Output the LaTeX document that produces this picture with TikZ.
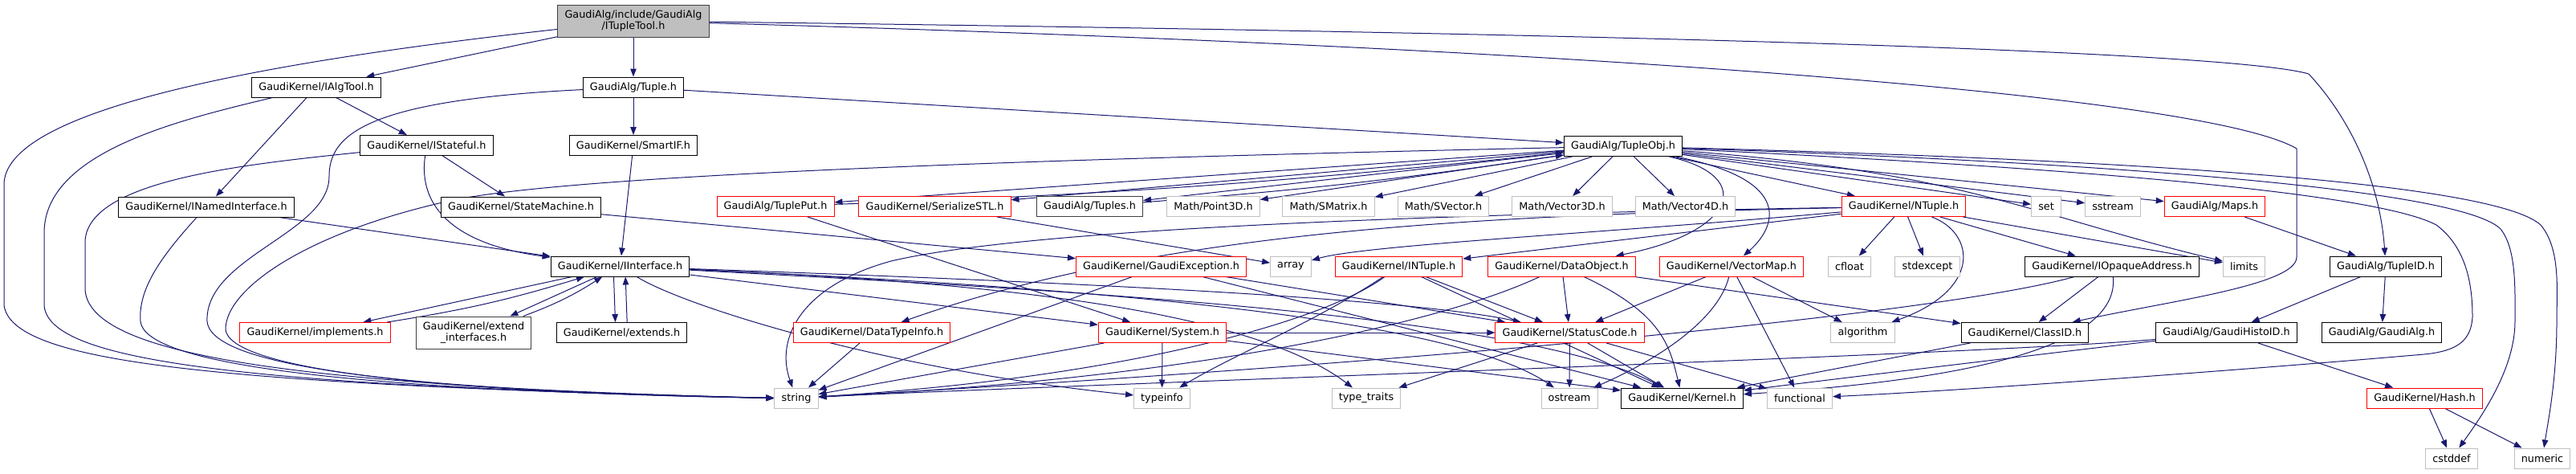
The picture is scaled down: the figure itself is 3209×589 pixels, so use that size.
\documentclass[tikz,border=0pt]{standalone}
\usepackage{fontspec}
\setmainfont{DejaVu Sans}
\usetikzlibrary{arrows.meta}
\definecolor{edgeblue}{HTML}{191970}
\definecolor{extgray}{HTML}{BFBFBF}
\pgfdeclarelayer{edges}
\pgfsetlayers{edges,main}
\tikzset{
  hdr/.style={draw=black, line width=0.75pt, fill=white, inner xsep=6.5pt, inner ysep=0pt,
    minimum height=18.75pt, align=center, font=\fontsize{9.6}{11}\selectfont},
  hdrred/.style={hdr, draw=red},
  hdrext/.style={hdr, draw=extgray},
  hdrroot/.style={hdr, fill=extgray, draw=black!75},
  inc/.style={edgeblue, line width=0.75pt, -{Triangle[length=7.5pt,width=5.6pt]}}
}
\begin{document}
\begin{tikzpicture}[x=0.75pt, y=-0.75pt]
\useasboundingbox (0,0) rectangle (3209,589);
\node[hdrroot, minimum height=30pt] (tool) at (789,26) {GaudiAlg/include/GaudiAlg\\/ITupleTool.h};
\node[hdr] (ialgtool) at (394,108.5) {GaudiKernel/IAlgTool.h};
\node[hdr] (tupleh) at (789,108.5) {GaudiAlg/Tuple.h};
\node[hdr] (istateful) at (531.5,181) {GaudiKernel/IStateful.h};
\node[hdr] (smartif) at (789,181) {GaudiKernel/SmartIF.h};
\node[hdr] (tupleobj) at (2022,182) {GaudiAlg/TupleObj.h};
\node[hdr] (inamed) at (257,257.5) {GaudiKernel/INamedInterface.h};
\node[hdr] (statemach) at (649,257.5) {GaudiKernel/StateMachine.h};
\node[hdrred] (tupleput) at (966,257) {GaudiAlg/TuplePut.h};
\node[hdrred] (serstl) at (1164.5,257) {GaudiKernel/SerializeSTL.h};
\node[hdr, draw=black!75] (tuples) at (1357.5,257) {GaudiAlg/Tuples.h};
\node[hdrext] (point3d) at (1511.5,257) {Math/Point3D.h};
\node[hdrext] (smatrix) at (1655,257) {Math/SMatrix.h};
\node[hdrext] (svector) at (1798,257) {Math/SVector.h};
\node[hdrext] (vec3d) at (1946,257) {Math/Vector3D.h};
\node[hdrext] (vec4d) at (2099.5,257) {Math/Vector4D.h};
\node[hdrred] (ntuple) at (2371.5,257) {GaudiKernel/NTuple.h};
\node[hdrext] (set) at (2549,257) {set};
\node[hdrext] (sstream) at (2632,257) {sstream};
\node[hdrred] (maps) at (2759,257) {GaudiAlg/Maps.h};
\node[hdr] (iiface) at (772.5,331.5) {GaudiKernel/IInterface.h};
\node[hdrred] (gexcept) at (1446.5,331.5) {GaudiKernel/GaudiException.h};
\node[hdrext] (array) at (1608,331.5) {array};
\node[hdrred] (intuple) at (1742.5,331.5) {GaudiKernel/INTuple.h};
\node[hdrred] (dataobj) at (1945.5,331.5) {GaudiKernel/DataObject.h};
\node[hdrred] (vecmap) at (2157,331.5) {GaudiKernel/VectorMap.h};
\node[hdrext] (cfloat) at (2304,331.5) {cfloat};
\node[hdrext] (stdexcept) at (2401,331.5) {stdexcept};
\node[hdr] (iopaque) at (2631,331.5) {GaudiKernel/IOpaqueAddress.h};
\node[hdrext] (limits) at (2795.5,331.5) {limits};
\node[hdr] (tupleid) at (2972,331.5) {GaudiAlg/TupleID.h};
\node[hdrred] (implements) at (392.5,414) {GaudiKernel/implements.h};
\node[hdr, draw=black!75, minimum height=30pt] (extendif) at (590,414) {GaudiKernel/extend\\\_interfaces.h};
\node[hdr] (extends) at (774.5,414) {GaudiKernel/extends.h};
\node[hdrred] (dtinfo) at (1086,414) {GaudiKernel/DataTypeInfo.h};
\node[hdrred] (system) at (1448,414) {GaudiKernel/System.h};
\node[hdrred] (statcode) at (1955.5,414) {GaudiKernel/StatusCode.h};
\node[hdrext] (algorithm) at (2320.5,414) {algorithm};
\node[hdr] (classid) at (2522.5,414) {GaudiKernel/ClassID.h};
\node[hdr] (histoid) at (2773.5,414) {GaudiAlg/GaudiHistoID.h};
\node[hdr] (gaudialg) at (2967,414) {GaudiAlg/GaudiAlg.h};
\node[hdrext] (string) at (992,495.5) {string};
\node[hdrext] (typeinfo) at (1447.5,495.5) {typeinfo};
\node[hdrext] (typetraits) at (1702,495.5) {type\_traits};
\node[hdrext] (ostream) at (1955,495.5) {ostream};
\node[hdr] (kernel) at (2095.5,495.5) {GaudiKernel/Kernel.h};
\node[hdrext] (functional) at (2242,495.5) {functional};
\node[hdrred] (hash) at (3020.5,495.5) {GaudiKernel/Hash.h};
\node[hdrext] (cstddef) at (3054,570.5) {cstddef};
\node[hdrext] (numeric) at (3167,570.5) {numeric};
\begin{pgfonlayer}{edges}
\draw[inc] (tool) .. controls (300,80) and (5,140) .. (5,230) -- (5,380) .. controls (15,450) and (250,478) .. (string.west);
\draw[inc] (tool) -- (ialgtool);
\draw[inc] (tool) -- (tupleh);
\draw[inc] (tool) .. controls (2300,45) and (2800,70) .. (2876,92) .. controls (2930,150) and (2965,230) .. (tupleid);
\draw[inc] (tool) .. controls (2000,60) and (2750,120) .. (2861,185) -- (2861,320) .. controls (2861,355) and (2700,375) .. (classid);
\draw[inc] (ialgtool) .. controls (220,150) and (55,190) .. (55,290) -- (55,380) .. controls (60,450) and (300,480) .. (string.west);
\draw[inc] (ialgtool) -- (istateful);
\draw[inc] (ialgtool) -- (inamed);
\draw[inc] (tupleh) .. controls (450,125) and (410,170) .. (410,220) .. controls (410,290) and (255,320) .. (258,400) .. controls (262,450) and (450,485) .. (string.west);
\draw[inc] (tupleh) -- (smartif);
\draw[inc] (tupleh) -- (tupleobj);
\draw[inc] (istateful) .. controls (300,205) and (110,225) .. (106,300) -- (106,360) .. controls (110,440) and (350,480) .. (string.west);
\draw[inc] (istateful) -- (statemach);
\draw[inc] (istateful) .. controls (520,260) and (570,305) .. (iiface);
\draw[inc] (smartif) -- (iiface);
\draw[inc] (inamed) .. controls (200,320) and (172,360) .. (175,400) .. controls (180,450) and (400,485) .. (string.west);
\draw[inc] (inamed) -- (iiface);
\draw[inc] (statemach) -- (gexcept);
\draw[inc] (iiface) -- (implements);
\draw[inc] (implements) to[bend right=4] (iiface);
\draw[inc] (iiface) -- (extendif);
\draw[inc] (extendif) to[bend right=6] (iiface);
\draw[inc] ([xshift=-6pt]iiface.south) -- ([xshift=-6pt]extends.north);
\draw[inc] ([xshift=5pt]extends.north) -- ([xshift=5pt]iiface.south);
\draw[inc] (iiface) .. controls (850,380) and (1100,460) .. (typeinfo);
\draw[inc] (iiface) -- (system);
\draw[inc] (iiface) .. controls (1200,350) and (1550,380) .. (typetraits);
\draw[inc] (iiface) .. controls (1300,350) and (1750,370) .. (statcode);
\draw[inc] (iiface) .. controls (1300,355) and (1800,390) .. (ostream);
\draw[inc] (iiface) .. controls (1300,360) and (1900,390) .. (kernel);
\draw[inc] (tupleobj) -- (tupleput);
\draw[inc] (tupleput) to[bend right=2] (tupleobj);
\draw[inc] (tupleobj) -- (tuples);
\draw[inc] (tuples) to[bend right=2] (tupleobj);
\draw[inc] (tupleobj) -- (serstl);
\draw[inc] (tupleobj) -- (point3d);
\draw[inc] (tupleobj) -- (smatrix);
\draw[inc] (tupleobj) -- (svector);
\draw[inc] (tupleobj) -- (vec3d);
\draw[inc] (tupleobj) -- (vec4d);
\draw[inc] (tupleobj) -- (ntuple);
\draw[inc] (tupleobj) -- (set);
\draw[inc] (tupleobj) -- (sstream);
\draw[inc] (tupleobj) -- (maps);
\draw[inc] (tupleobj) .. controls (2450,215) and (2520,265) .. (limits);
\draw[inc] (tupleobj) .. controls (2190,220) and (2160,290) .. (dataobj);
\draw[inc] (tupleobj) .. controls (2240,225) and (2210,285) .. (vecmap);
\draw[inc] (tupleobj) .. controls (2700,200) and (3110,230) .. (3165,280) .. controls (3190,310) and (3185,360) .. (3185,400) .. controls (3185,470) and (3175,520) .. (numeric);
\draw[inc] (tupleobj) .. controls (2700,205) and (3070,240) .. (3115,285) .. controls (3135,310) and (3133,360) .. (3133,400) .. controls (3133,460) and (3090,520) .. (cstddef);
\draw[inc] (tupleobj) .. controls (2500,205) and (2950,235) .. (3035,280) .. controls (3075,310) and (3080,360) .. (3080,395) .. controls (3078,425) and (3060,437) .. (3020,441) .. controls (2800,460) and (2450,486) .. (functional);
\draw[inc] (tupleobj) .. controls (1200,200) and (700,220) .. (560,250) .. controls (380,290) and (281,360) .. (281,410) .. controls (285,455) and (500,488) .. (string.west);
\draw[inc] (ntuple) .. controls (1900,265) and (1300,280) .. (1110,325) .. controls (1000,355) and (965,420) .. (string);
\draw[inc] (ntuple) .. controls (1850,268) and (1450,285) .. (dtinfo);
\draw[inc] (ntuple) .. controls (2000,290) and (1700,305) .. (array);
\draw[inc] (ntuple) -- (intuple);
\draw[inc] (ntuple) -- (cfloat);
\draw[inc] (ntuple) -- (stdexcept);
\draw[inc] (ntuple) -- (iopaque);
\draw[inc] (ntuple) -- (limits);
\draw[inc] (ntuple) .. controls (2460,290) and (2470,360) .. (algorithm);
\draw[inc] (serstl) -- (array);
\draw[inc] (tupleput) -- (system);
\draw[inc] (gexcept) -- (string);
\draw[inc] (gexcept) -- (statcode);
\draw[inc] (gexcept) -- (kernel);
\draw[inc] (dtinfo) -- (string);
\draw[inc] (system) -- (string);
\draw[inc] (system) -- (typeinfo);
\draw[inc] (system) -- (statcode);
\draw[inc] (system) -- (kernel);
\draw[inc] (intuple) .. controls (1650,400) and (1400,470) .. (string);
\draw[inc] (intuple) .. controls (1640,400) and (1540,440) .. (typeinfo);
\draw[inc] (intuple) -- (statcode);
\draw[inc] (intuple) -- (kernel);
\draw[inc] (dataobj) .. controls (1800,400) and (1500,470) .. (string);
\draw[inc] (dataobj) -- (statcode);
\draw[inc] (dataobj) .. controls (2070,390) and (2080,430) .. (kernel);
\draw[inc] (dataobj) -- (classid);
\draw[inc] (vecmap) -- (statcode);
\draw[inc] (vecmap) .. controls (2140,400) and (2060,450) .. (ostream);
\draw[inc] (vecmap) -- (functional);
\draw[inc] (vecmap) -- (algorithm);
\draw[inc] (statcode) -- (typetraits);
\draw[inc] (statcode) -- (ostream);
\draw[inc] (statcode) -- (kernel);
\draw[inc] (statcode) -- (functional);
\draw[inc] (iopaque) .. controls (2420,390) and (1800,450) .. (string);
\draw[inc] (iopaque) -- (classid);
\draw[inc] (iopaque) .. controls (2640,420) and (2500,470) .. (kernel);
\draw[inc] (classid) -- (kernel);
\draw[inc] (histoid) .. controls (2500,440) and (1300,480) .. (string);
\draw[inc] (histoid) .. controls (2550,440) and (2300,470) .. (kernel);
\draw[inc] (histoid) -- (hash);
\draw[inc] (maps) -- (tupleid);
\draw[inc] (tupleid) -- (histoid);
\draw[inc] (tupleid) -- (gaudialg);
\draw[inc] (hash) -- (cstddef);
\draw[inc] (hash) -- (numeric);
\end{pgfonlayer}
\end{tikzpicture}
\end{document}
